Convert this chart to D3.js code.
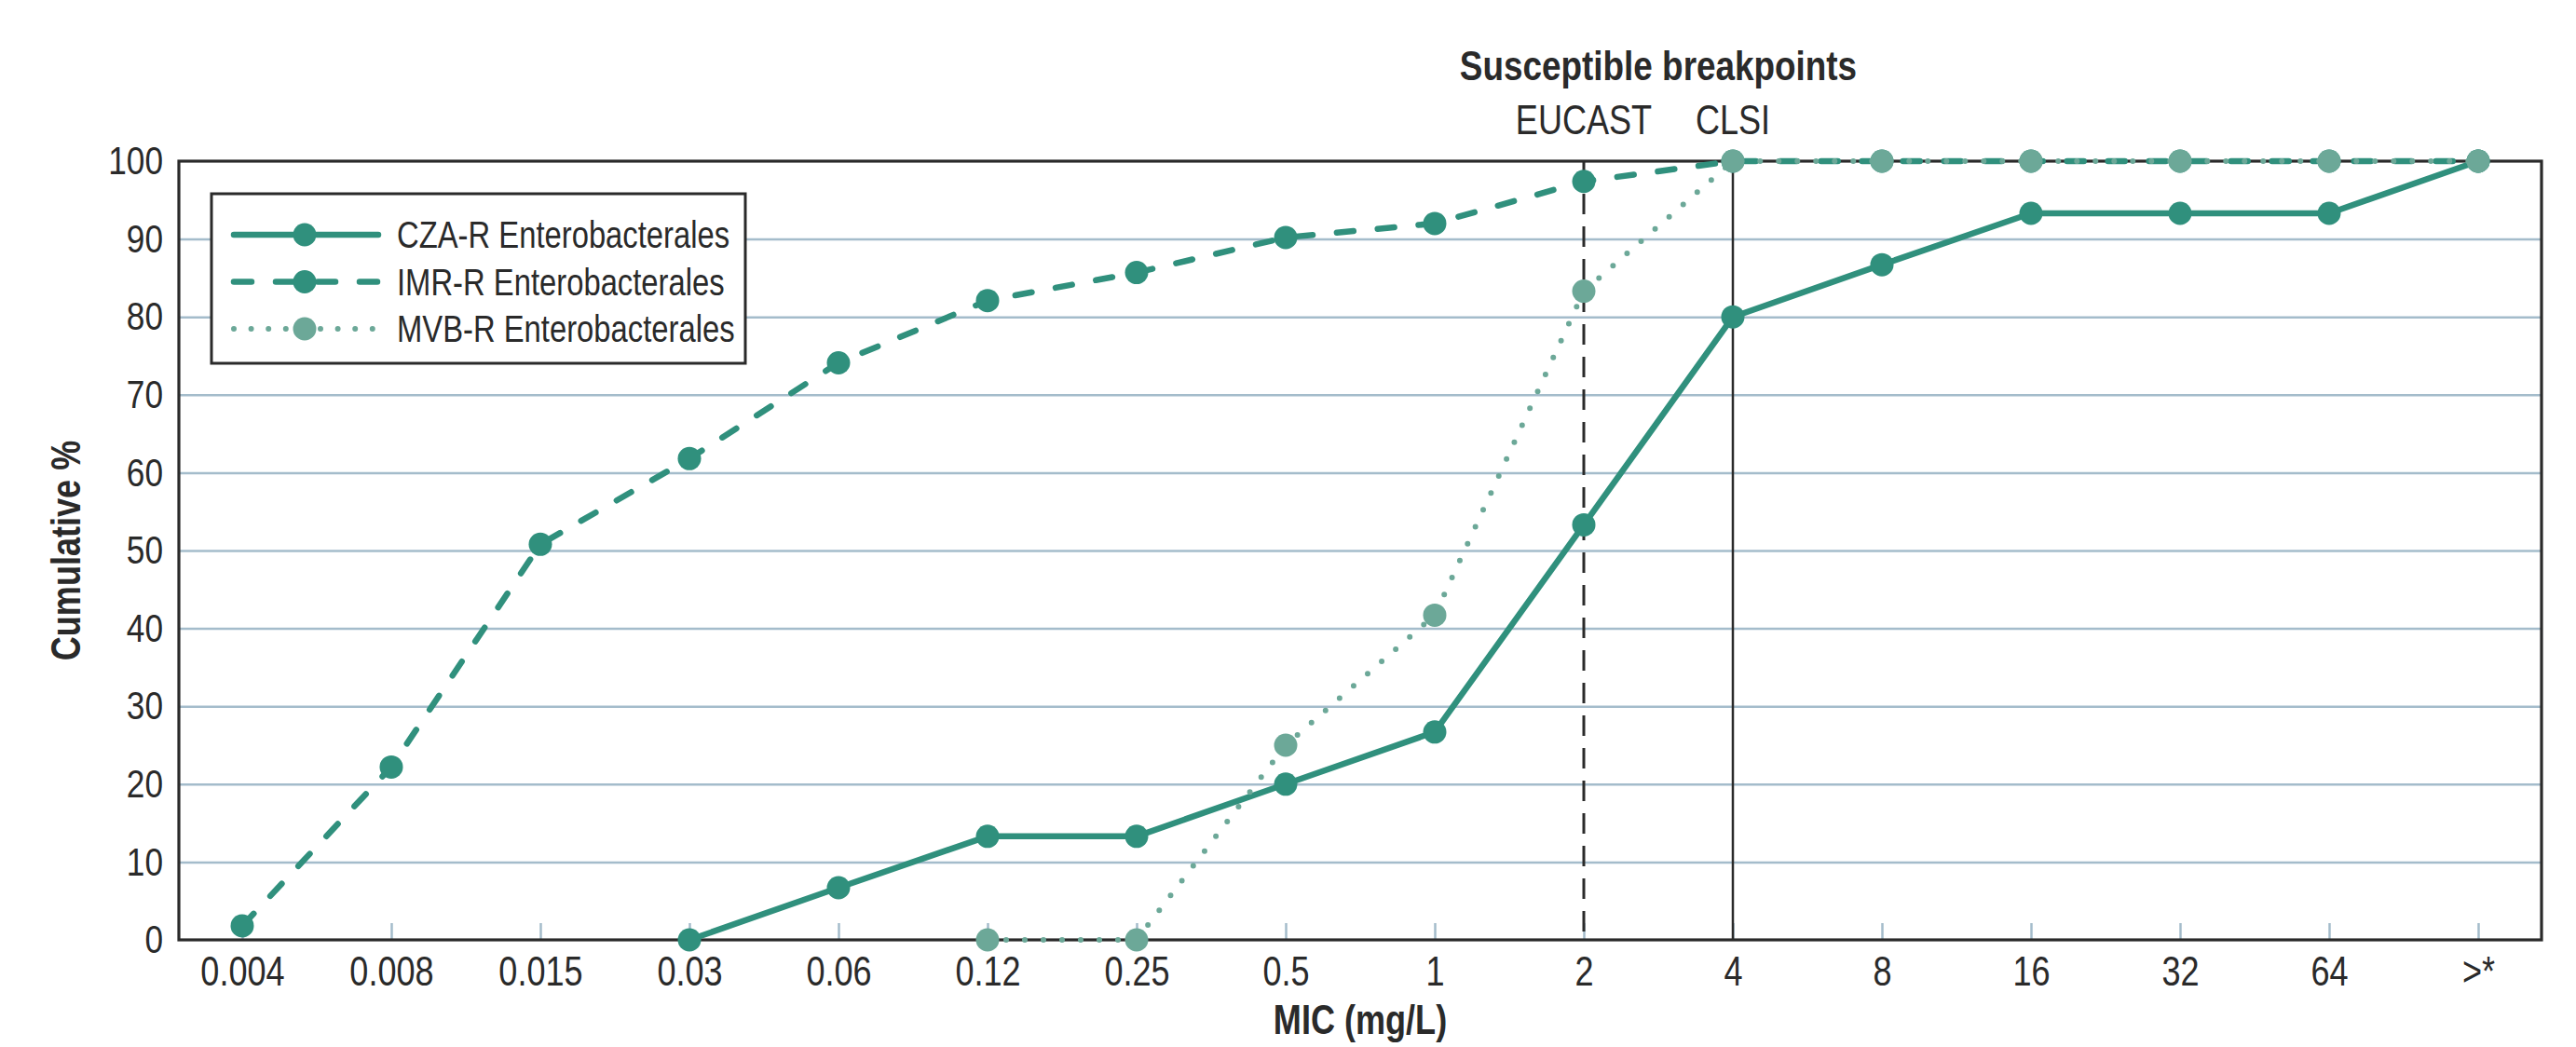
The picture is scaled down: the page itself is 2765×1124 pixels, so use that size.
<!DOCTYPE html>
<html>
<head>
<meta charset="utf-8">
<script src="https://cdn.jsdelivr.net/npm/d3@7"></script>
<style>
    body { margin: 0; background: #fff; }
    svg text { font-family: "Liberation Sans", Arial, sans-serif; fill: #2a2a2a; }
</style>
</head>
<body>
<svg id="chart"></svg>
<script>
// MIC categories on the x axis
const micLabels = ["0.004", "0.008", "0.015", "0.03", "0.06", "0.12", "0.25", "0.5", "1", "2", "4", "8", "16", "32", "64", ">*"];
// cumulative % per MIC, null where the series has no point
const czaValues = [null, null, null, 0, 6.7, 13.3, 13.3, 20, 26.7, 53.3, 80, 86.7, 93.3, 93.3, 93.3, 100];
const imrValues = [1.8, 22.2, 50.8, 61.8, 74.1, 82.1, 85.7, 90.2, 92.0, 97.4, 100, 100, 100, 100, 100, 100];
const mvbValues = [null, null, null, null, null, 0, 0, 25, 41.7, 83.3, 100, 100, 100, 100, 100, 100];
const seriesNames = ["CZA-R Enterobacterales", "IMR-R Enterobacterales", "MVB-R Enterobacterales"];
const yTicks = d3.range(0, 101, 10);
const breakpointLabels = ["EUCAST", "CLSI"];
const breakpointMics = ["2", "4"];

let width = 2765,
    height = 1124,
    margin = {top: 173, right: 37, bottom: 115, left: 192};

let dark = "#2a2a2a",
    teal = "#30907d",
    tealLight = "#6ca898",
    grid = "#a4bccb";

let series = [
    {name: seriesNames[0], values: czaValues, color: teal, dash: null, w: 6.5},
    {name: seriesNames[1], values: imrValues, color: teal, dash: "18,26", w: 6.5},
    {name: seriesNames[2], values: mvbValues, color: tealLight, dash: "0,20", w: 6}
];

let svg = d3.select("#chart")
    .attr("width", width)
    .attr("height", height);

let x = d3.scalePoint()
    .domain(micLabels)
    .range([margin.left, width - margin.right])
    .padding(0.425);

let y = d3.scaleLinear()
    .domain([0, 100])
    .range([height - margin.bottom, margin.top]);

// horizontal grid
svg.append("g")
    .attr("transform", "translate(" + margin.left + ",0)")
    .call(d3.axisLeft(y).tickValues(yTicks.slice(1, -1)).tickSize(-(width - margin.left - margin.right)).tickFormat(""))
    .call(g => g.select(".domain").remove())
    .call(g => g.selectAll("line").attr("stroke", grid).attr("stroke-width", 2.5));

// x axis: small inner ticks + labels
svg.append("g")
    .attr("transform", "translate(0," + y(0) + ")")
    .call(d3.axisBottom(x).tickSizeInner(-18).tickSizeOuter(0).tickPadding(18))
    .call(g => g.select(".domain").remove())
    .call(g => g.selectAll("line").attr("stroke", grid).attr("stroke-width", 2.5))
    .call(g => g.selectAll("text").attr("font-size", 44).attr("fill", dark).style("font-family", null));

// y axis labels
svg.append("g")
    .attr("transform", "translate(" + margin.left + ",0)")
    .call(d3.axisLeft(y).tickValues(yTicks).tickSize(0).tickPadding(17))
    .call(g => g.select(".domain").remove())
    .call(g => g.selectAll("text").attr("font-size", 43).attr("fill", dark).style("font-family", null));

// frame
svg.append("rect")
    .attr("x", margin.left)
    .attr("y", margin.top)
    .attr("width", width - margin.left - margin.right)
    .attr("height", height - margin.top - margin.bottom)
    .attr("fill", "none")
    .attr("stroke", dark)
    .attr("stroke-width", 3.2);

// breakpoint lines
svg.selectAll(".bp")
    .data(breakpointMics).enter()
    .append("line")
    .attr("class", "bp")
    .attr("x1", d => x(d)).attr("x2", d => x(d))
    .attr("y1", y(100)).attr("y2", y(0))
    .attr("stroke", dark)
    .attr("stroke-width", (d, i) => i === 0 ? 3 : 2.5)
    .attr("stroke-dasharray", (d, i) => i === 0 ? "22,13" : null);

svg.selectAll(".bplabel")
    .data(breakpointMics).enter()
    .append("text")
    .attr("class", "bplabel")
    .attr("x", d => x(d))
    .attr("y", 144)
    .attr("text-anchor", "middle")
    .attr("font-size", 44)
    .text((d, i) => breakpointLabels[i]);

svg.append("text")
    .attr("x", (x(breakpointMics[0]) + x(breakpointMics[1])) / 2)
    .attr("y", 86)
    .attr("text-anchor", "middle")
    .attr("font-size", 45)
    .attr("font-weight", "bold")
    .text("Susceptible breakpoints");

// series
let line = d3.line()
    .defined(d => d != null)
    .x((d, i) => x(micLabels[i]))
    .y(d => y(d));

series.forEach(s => {
    let g = svg.append("g");
    g.append("path")
        .attr("d", line(s.values))
        .attr("fill", "none")
        .attr("stroke", s.color)
        .attr("stroke-width", s.w)
        .attr("stroke-linecap", "round")
        .attr("stroke-linejoin", "round")
        .attr("stroke-dasharray", s.dash);
    g.selectAll("circle")
        .data(s.values.map((v, i) => ({v: v, m: micLabels[i]})).filter(d => d.v != null))
        .enter()
        .append("circle")
        .attr("cx", d => x(d.m))
        .attr("cy", d => y(d.v))
        .attr("r", 12.5)
        .attr("fill", s.color);
});

// legend
let legend = svg.append("g");
legend.append("rect")
    .attr("x", 227).attr("y", 208)
    .attr("width", 573).attr("height", 182)
    .attr("fill", "#fff")
    .attr("stroke", dark)
    .attr("stroke-width", 3);

let rows = legend.selectAll(".row")
    .data(series).enter()
    .append("g")
    .attr("transform", (d, i) => "translate(0," + (252 + i * 50.5) + ")");
rows.append("line")
    .attr("x1", 251).attr("x2", 406)
    .attr("stroke", d => d.color)
    .attr("stroke-width", d => d.w)
    .attr("stroke-linecap", "round")
    .attr("stroke-dasharray", (d, i) => i === 1 ? "19,26" : (i === 2 ? "0,18.6" : null));
rows.append("circle")
    .attr("cx", 327).attr("r", 12.5)
    .attr("fill", d => d.color);
rows.append("text")
    .attr("x", 426).attr("y", 14)
    .attr("font-size", 40)
    .text(d => d.name);

// axis titles
svg.append("text")
    .attr("transform", "translate(86," + y(50) + ")rotate(-90)")
    .attr("text-anchor", "middle")
    .attr("font-size", 44)
    .attr("font-weight", "bold")
    .text("Cumulative %");

svg.append("text")
    .attr("x", (margin.left + width - margin.right) / 2)
    .attr("y", 1110)
    .attr("text-anchor", "middle")
    .attr("font-size", 44)
    .attr("font-weight", "bold")
    .text("MIC (mg/L)");

// no narrow font installed: squeeze every label horizontally around its anchor
function condense(sel, k) {
    sel.each(function () {
        let t = d3.select(this);
        let tx = +t.attr("x") || 0, ty = +t.attr("y") || 0;
        let tr = t.attr("transform") || "";
        t.attr("x", 0).attr("y", 0)
            .attr("transform", tr + "translate(" + tx + "," + ty + ")scale(" + k + ",1)");
    });
}
condense(svg.selectAll("text"), 0.82);
</script>
</body>
</html>
